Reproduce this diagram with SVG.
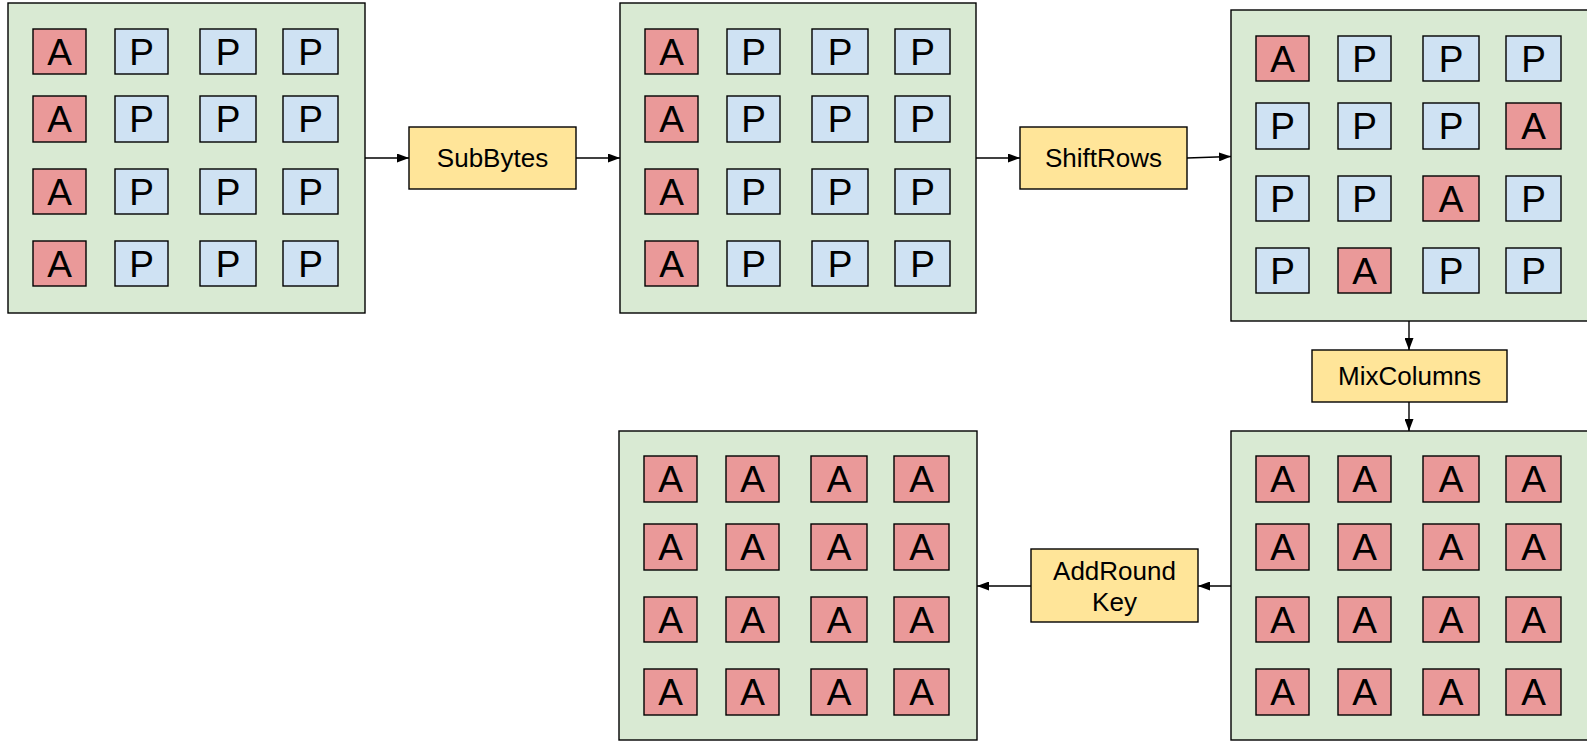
<svg xmlns="http://www.w3.org/2000/svg" xmlns:xlink="http://www.w3.org/1999/xlink" width="1587" height="741" viewBox="0 0 1587 741">
<style>
.state{fill:#d9ead3;stroke:#000;stroke-width:1.4}
.a{fill:#ea9999;stroke:#000;stroke-width:1.4}
.p{fill:#cfe2f3;stroke:#000;stroke-width:1.4}
.op{fill:#ffe599;stroke:#000;stroke-width:1.4}
.cl{font-family:"Liberation Sans",Arial,sans-serif;font-size:37px;text-anchor:middle;fill:#000}
.lb{font-family:"Liberation Sans",Arial,sans-serif;font-size:26px;text-anchor:middle;fill:#000}
.conn{fill:none;stroke:#000;stroke-width:1.4;marker-end:url(#arr)}
</style>
<defs>
<marker id="arr" markerUnits="userSpaceOnUse" markerWidth="12" markerHeight="9" refX="12" refY="4.5" orient="auto" viewBox="0 0 12 9">
<path d="M0,0 L12,4.5 L0,9 z" fill="#000"/>
</marker>
</defs>
<g id="state1" transform="translate(8,3)">
<rect class="state" x="0" y="0" width="357" height="310"/>
<rect class="a" x="25" y="26" width="53" height="45"/><text class="cl" x="51.5" y="61.8">A</text>
<rect class="p" x="107" y="26" width="53" height="45"/><text class="cl" x="133.5" y="61.8">P</text>
<rect class="p" x="192" y="26" width="56" height="45"/><text class="cl" x="220" y="61.8">P</text>
<rect class="p" x="275" y="26" width="55" height="45"/><text class="cl" x="302.5" y="61.8">P</text>
<rect class="a" x="25" y="93" width="53" height="46"/><text class="cl" x="51.5" y="129.3">A</text>
<rect class="p" x="107" y="93" width="53" height="46"/><text class="cl" x="133.5" y="129.3">P</text>
<rect class="p" x="192" y="93" width="56" height="46"/><text class="cl" x="220" y="129.3">P</text>
<rect class="p" x="275" y="93" width="55" height="46"/><text class="cl" x="302.5" y="129.3">P</text>
<rect class="a" x="25" y="166" width="53" height="45"/><text class="cl" x="51.5" y="201.8">A</text>
<rect class="p" x="107" y="166" width="53" height="45"/><text class="cl" x="133.5" y="201.8">P</text>
<rect class="p" x="192" y="166" width="56" height="45"/><text class="cl" x="220" y="201.8">P</text>
<rect class="p" x="275" y="166" width="55" height="45"/><text class="cl" x="302.5" y="201.8">P</text>
<rect class="a" x="25" y="238" width="53" height="45"/><text class="cl" x="51.5" y="273.8">A</text>
<rect class="p" x="107" y="238" width="53" height="45"/><text class="cl" x="133.5" y="273.8">P</text>
<rect class="p" x="192" y="238" width="56" height="45"/><text class="cl" x="220" y="273.8">P</text>
<rect class="p" x="275" y="238" width="55" height="45"/><text class="cl" x="302.5" y="273.8">P</text>
</g>
<g id="state2" transform="translate(620,3)">
<rect class="state" x="0" y="0" width="356" height="310"/>
<rect class="a" x="25" y="26" width="53" height="45"/><text class="cl" x="51.5" y="61.8">A</text>
<rect class="p" x="107" y="26" width="53" height="45"/><text class="cl" x="133.5" y="61.8">P</text>
<rect class="p" x="192" y="26" width="56" height="45"/><text class="cl" x="220" y="61.8">P</text>
<rect class="p" x="275" y="26" width="55" height="45"/><text class="cl" x="302.5" y="61.8">P</text>
<rect class="a" x="25" y="93" width="53" height="46"/><text class="cl" x="51.5" y="129.3">A</text>
<rect class="p" x="107" y="93" width="53" height="46"/><text class="cl" x="133.5" y="129.3">P</text>
<rect class="p" x="192" y="93" width="56" height="46"/><text class="cl" x="220" y="129.3">P</text>
<rect class="p" x="275" y="93" width="55" height="46"/><text class="cl" x="302.5" y="129.3">P</text>
<rect class="a" x="25" y="166" width="53" height="45"/><text class="cl" x="51.5" y="201.8">A</text>
<rect class="p" x="107" y="166" width="53" height="45"/><text class="cl" x="133.5" y="201.8">P</text>
<rect class="p" x="192" y="166" width="56" height="45"/><text class="cl" x="220" y="201.8">P</text>
<rect class="p" x="275" y="166" width="55" height="45"/><text class="cl" x="302.5" y="201.8">P</text>
<rect class="a" x="25" y="238" width="53" height="45"/><text class="cl" x="51.5" y="273.8">A</text>
<rect class="p" x="107" y="238" width="53" height="45"/><text class="cl" x="133.5" y="273.8">P</text>
<rect class="p" x="192" y="238" width="56" height="45"/><text class="cl" x="220" y="273.8">P</text>
<rect class="p" x="275" y="238" width="55" height="45"/><text class="cl" x="302.5" y="273.8">P</text>
</g>
<g id="state3" transform="translate(1231,10)">
<rect class="state" x="0" y="0" width="358" height="311"/>
<rect class="a" x="25" y="26" width="53" height="45"/><text class="cl" x="51.5" y="61.8">A</text>
<rect class="p" x="107" y="26" width="53" height="45"/><text class="cl" x="133.5" y="61.8">P</text>
<rect class="p" x="192" y="26" width="56" height="45"/><text class="cl" x="220" y="61.8">P</text>
<rect class="p" x="275" y="26" width="55" height="45"/><text class="cl" x="302.5" y="61.8">P</text>
<rect class="p" x="25" y="93" width="53" height="46"/><text class="cl" x="51.5" y="129.3">P</text>
<rect class="p" x="107" y="93" width="53" height="46"/><text class="cl" x="133.5" y="129.3">P</text>
<rect class="p" x="192" y="93" width="56" height="46"/><text class="cl" x="220" y="129.3">P</text>
<rect class="a" x="275" y="93" width="55" height="46"/><text class="cl" x="302.5" y="129.3">A</text>
<rect class="p" x="25" y="166" width="53" height="45"/><text class="cl" x="51.5" y="201.8">P</text>
<rect class="p" x="107" y="166" width="53" height="45"/><text class="cl" x="133.5" y="201.8">P</text>
<rect class="a" x="192" y="166" width="56" height="45"/><text class="cl" x="220" y="201.8">A</text>
<rect class="p" x="275" y="166" width="55" height="45"/><text class="cl" x="302.5" y="201.8">P</text>
<rect class="p" x="25" y="238" width="53" height="45"/><text class="cl" x="51.5" y="273.8">P</text>
<rect class="a" x="107" y="238" width="53" height="45"/><text class="cl" x="133.5" y="273.8">A</text>
<rect class="p" x="192" y="238" width="56" height="45"/><text class="cl" x="220" y="273.8">P</text>
<rect class="p" x="275" y="238" width="55" height="45"/><text class="cl" x="302.5" y="273.8">P</text>
</g>
<g id="state4" transform="translate(619,431)">
<rect class="state" x="0" y="0" width="358" height="309"/>
<rect class="a" x="25" y="25" width="53" height="46"/><text class="cl" x="51.5" y="61.3">A</text>
<rect class="a" x="107" y="25" width="53" height="46"/><text class="cl" x="133.5" y="61.3">A</text>
<rect class="a" x="192" y="25" width="56" height="46"/><text class="cl" x="220" y="61.3">A</text>
<rect class="a" x="275" y="25" width="55" height="46"/><text class="cl" x="302.5" y="61.3">A</text>
<rect class="a" x="25" y="93" width="53" height="46"/><text class="cl" x="51.5" y="129.3">A</text>
<rect class="a" x="107" y="93" width="53" height="46"/><text class="cl" x="133.5" y="129.3">A</text>
<rect class="a" x="192" y="93" width="56" height="46"/><text class="cl" x="220" y="129.3">A</text>
<rect class="a" x="275" y="93" width="55" height="46"/><text class="cl" x="302.5" y="129.3">A</text>
<rect class="a" x="25" y="166" width="53" height="45"/><text class="cl" x="51.5" y="201.8">A</text>
<rect class="a" x="107" y="166" width="53" height="45"/><text class="cl" x="133.5" y="201.8">A</text>
<rect class="a" x="192" y="166" width="56" height="45"/><text class="cl" x="220" y="201.8">A</text>
<rect class="a" x="275" y="166" width="55" height="45"/><text class="cl" x="302.5" y="201.8">A</text>
<rect class="a" x="25" y="238" width="53" height="46"/><text class="cl" x="51.5" y="274.3">A</text>
<rect class="a" x="107" y="238" width="53" height="46"/><text class="cl" x="133.5" y="274.3">A</text>
<rect class="a" x="192" y="238" width="56" height="46"/><text class="cl" x="220" y="274.3">A</text>
<rect class="a" x="275" y="238" width="55" height="46"/><text class="cl" x="302.5" y="274.3">A</text>
</g>
<g id="state5" transform="translate(1231,431)">
<rect class="state" x="0" y="0" width="358" height="309"/>
<rect class="a" x="25" y="25" width="53" height="46"/><text class="cl" x="51.5" y="61.3">A</text>
<rect class="a" x="107" y="25" width="53" height="46"/><text class="cl" x="133.5" y="61.3">A</text>
<rect class="a" x="192" y="25" width="56" height="46"/><text class="cl" x="220" y="61.3">A</text>
<rect class="a" x="275" y="25" width="55" height="46"/><text class="cl" x="302.5" y="61.3">A</text>
<rect class="a" x="25" y="93" width="53" height="46"/><text class="cl" x="51.5" y="129.3">A</text>
<rect class="a" x="107" y="93" width="53" height="46"/><text class="cl" x="133.5" y="129.3">A</text>
<rect class="a" x="192" y="93" width="56" height="46"/><text class="cl" x="220" y="129.3">A</text>
<rect class="a" x="275" y="93" width="55" height="46"/><text class="cl" x="302.5" y="129.3">A</text>
<rect class="a" x="25" y="166" width="53" height="45"/><text class="cl" x="51.5" y="201.8">A</text>
<rect class="a" x="107" y="166" width="53" height="45"/><text class="cl" x="133.5" y="201.8">A</text>
<rect class="a" x="192" y="166" width="56" height="45"/><text class="cl" x="220" y="201.8">A</text>
<rect class="a" x="275" y="166" width="55" height="45"/><text class="cl" x="302.5" y="201.8">A</text>
<rect class="a" x="25" y="238" width="53" height="46"/><text class="cl" x="51.5" y="274.3">A</text>
<rect class="a" x="107" y="238" width="53" height="46"/><text class="cl" x="133.5" y="274.3">A</text>
<rect class="a" x="192" y="238" width="56" height="46"/><text class="cl" x="220" y="274.3">A</text>
<rect class="a" x="275" y="238" width="55" height="46"/><text class="cl" x="302.5" y="274.3">A</text>
</g>
<g id="subbytes">
<rect class="op" x="409" y="127" width="167" height="62"/>
<text class="lb" x="492.5" y="167.3">SubBytes</text>
</g>
<g id="shiftrows">
<rect class="op" x="1020" y="127" width="167" height="62"/>
<text class="lb" x="1103.5" y="167.3">ShiftRows</text>
</g>
<g id="mixcolumns">
<rect class="op" x="1312" y="350" width="195" height="52"/>
<text class="lb" x="1409.5" y="385.3">MixColumns</text>
</g>
<g id="addroundkey">
<rect class="op" x="1031" y="549" width="167" height="73"/>
<text class="lb" x="1114.5" y="580">AddRound</text>
<text class="lb" x="1114.5" y="611">Key</text>
</g>
<g id="connectors">
<path class="conn" d="M365,158 L409,158"/>
<path class="conn" d="M576,158 L620,158"/>
<path class="conn" d="M976,158 L1020,158"/>
<path class="conn" d="M1187,158 L1231,156.5"/>
<path class="conn" d="M1409,321 L1409,350"/>
<path class="conn" d="M1409,402 L1409,431"/>
<path class="conn" d="M1231,586 L1198,586"/>
<path class="conn" d="M1031,586 L977,586"/>
</g>
</svg>
